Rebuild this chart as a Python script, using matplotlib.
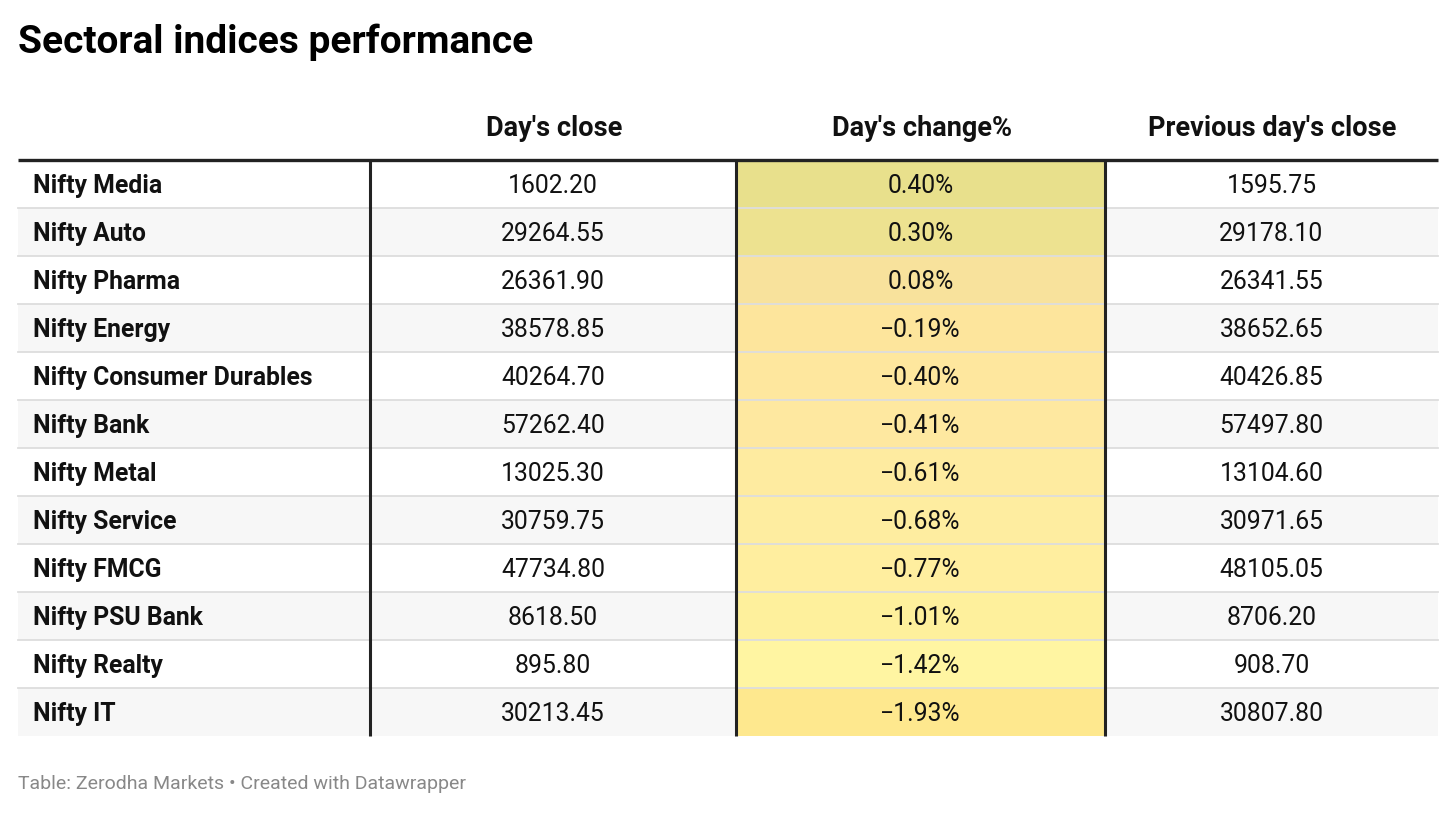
import matplotlib
matplotlib.use("Agg")
import matplotlib.pyplot as plt
from matplotlib.patches import Rectangle

plt.rcParams["font.family"] = ["Roboto", "DejaVu Sans"]

# table data
title = "Sectoral indices performance"
footer = "Table: Zerodha Markets • Created with Datawrapper"
headers = ["", "Day's close", "Day's change%", "Previous day's close"]
names = ["Nifty Media", "Nifty Auto", "Nifty Pharma", "Nifty Energy",
         "Nifty Consumer Durables", "Nifty Bank", "Nifty Metal", "Nifty Service",
         "Nifty FMCG", "Nifty PSU Bank", "Nifty Realty", "Nifty IT"]
close = [1602.20, 29264.55, 26361.90, 38578.85, 40264.70, 57262.40,
         13025.30, 30759.75, 47734.80, 8618.50, 895.80, 30213.45]
change = [0.40, 0.30, 0.08, -0.19, -0.40, -0.41, -0.61, -0.68, -0.77,
          -1.01, -1.42, -1.93]
prev = [1595.75, 29178.10, 26341.55, 38652.65, 40426.85, 57497.80,
        13104.60, 30971.65, 48105.05, 8706.20, 908.70, 30807.80]

# heatmap fill of the change column, as shown
change_colors = ["#e8e08c", "#ede290", "#f8e29c", "#fde59c", "#fee79e", "#fee8a0",
                 "#feeba0", "#feeda0", "#ffee9f", "#fef09c", "#fff5a2", "#fee88e"]

# layout in pixels
W, H = 1456, 813
col_edges = [18, 370, 736, 1105, 1438]
top = 160
row_h = 48

fig = plt.figure(figsize=(W / 100, H / 100), dpi=100)
ax = fig.add_axes([0, 0, 1, 1])
ax.set_xlim(0, W)
ax.set_ylim(H, 0)
ax.axis("off")

ax.text(18, 42, title, fontsize=28, fontweight="bold", va="center", ha="left",
        color="#000000")

# headers
for j in range(1, 4):
    cx = (col_edges[j] + col_edges[j + 1]) / 2
    ax.text(cx + 1, 129, headers[j], fontsize=19.5, fontweight="bold", ha="center",
            va="center", color="#111111")

fmt = lambda v: f"{v:.2f}"
for i, name in enumerate(names):
    y0 = top + i * row_h
    yc = y0 + row_h / 2 + 2
    bg = "#f7f7f7" if i % 2 else "#ffffff"
    ax.add_patch(Rectangle((col_edges[0], y0), col_edges[-1] - col_edges[0], row_h,
                           facecolor=bg, edgecolor="none", zorder=0))
    ax.add_patch(Rectangle((col_edges[2], y0), col_edges[3] - col_edges[2], row_h,
                           facecolor=change_colors[i], edgecolor="none", zorder=1))
    if i > 0:
        ax.plot([col_edges[0], col_edges[-1]], [y0, y0], color="#dddddd", lw=1.3,
                zorder=2)
    ax.text(33, yc, name, fontsize=17.8, fontweight="bold", ha="left", va="center",
            color="#111111", zorder=3)
    vals = [fmt(close[i]), fmt(change[i]).replace("-", "\u2212") + "%", fmt(prev[i])]
    for j, v in enumerate(vals, start=1):
        cx = (col_edges[j] + col_edges[j + 1]) / 2
        ax.text(cx, yc, v, fontsize=17.8, ha="center", va="center", color="#111111",
                zorder=3)

bottom = top + len(names) * row_h
ax.plot([col_edges[0], col_edges[-1]], [top, top], color="#222222", lw=2.4,
        zorder=4, solid_capstyle="butt")
for x in col_edges[1:4]:
    ax.plot([x, x], [top, bottom], color="#222222", lw=2.2, zorder=4,
            solid_capstyle="butt")

ax.text(18, 784, footer, fontsize=14, ha="left", va="center", color="#888888")

fig.savefig("out.png", dpi=100, facecolor="white")
